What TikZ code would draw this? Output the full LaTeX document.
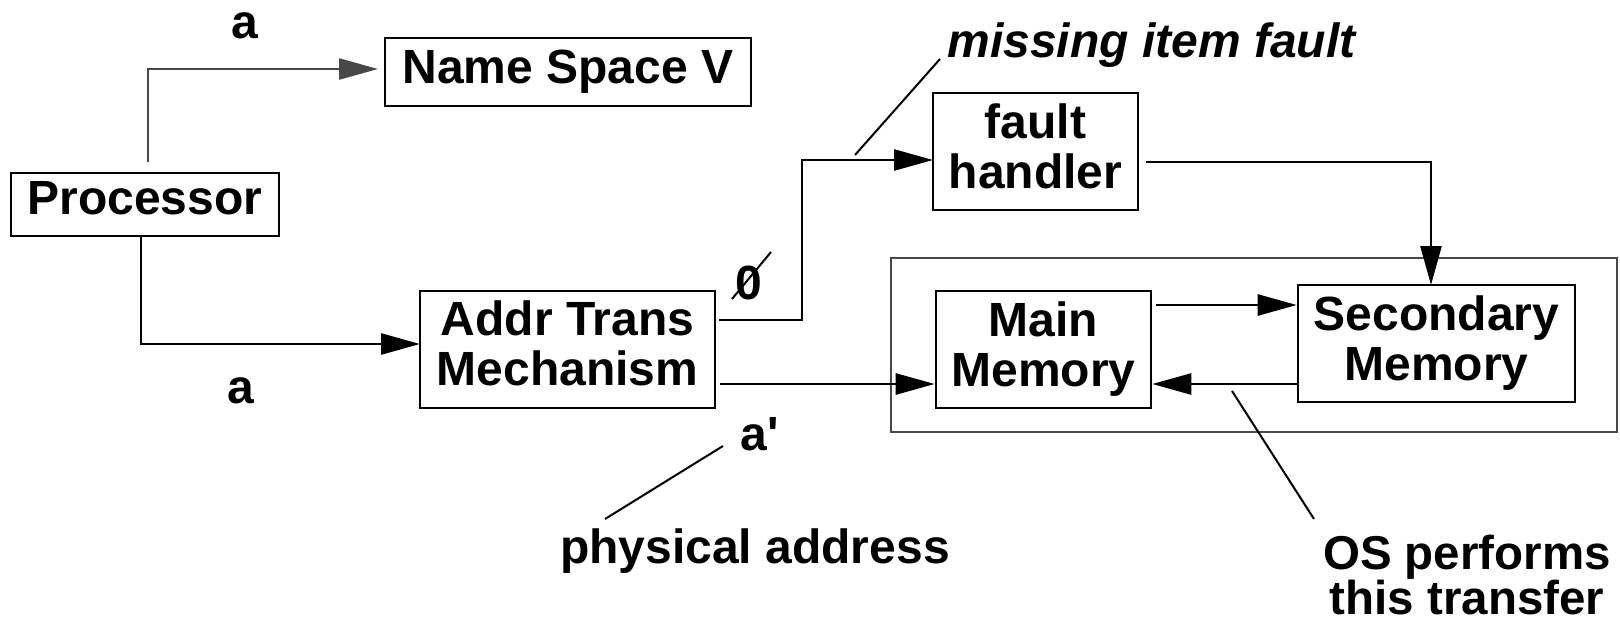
\documentclass[tikz,border=0pt]{standalone}
\usepackage{fontspec}
\setmainfont{Liberation Sans}
\usetikzlibrary{arrows.meta}
\definecolor{dgray}{HTML}{484848}
\tikzset{
  box/.style={draw, line width=2.6pt, inner sep=0pt, align=center,
    font=\fontsize{48}{50}\selectfont\bfseries},
  lbl/.style={inner sep=0pt, anchor=base, font=\fontsize{48}{50}\selectfont\bfseries},
  conn/.style={line width=2.6pt, -{Triangle[length=39pt,width=21pt]}},
  leader/.style={line width=2pt},
}
\begin{document}
\begin{tikzpicture}[x=1pt,y=-1pt]
\useasboundingbox (0,0) rectangle (1620,621);
% boxes
\node[box, minimum width=366pt, minimum height=68pt] (ns) at (568,72) {Name Space V};
\node[box, minimum width=268pt, minimum height=63pt, text depth=14pt] (proc) at (145,204.5) {Processor};
\node[box, minimum width=295pt, minimum height=117pt, text depth=12pt] (addr) at (567.5,349.5) {Addr Trans\\Mechanism};
\node[box, minimum width=205pt, minimum height=117pt, text depth=10pt] (fh) at (1035.5,151.5) {fault\\handler};
\node[draw=dgray, line width=2.6pt, minimum width=726pt, minimum height=174pt, inner sep=0pt] (cont) at (1254,345) {};
\node[box, minimum width=215pt, minimum height=117pt] (mm) at (1043.5,349.5) {Main\\Memory};
\node[box, minimum width=277pt, minimum height=117pt] (sm) at (1436.5,343.5) {Secondary\\Memory};
% free ends
\coordinate (p1) at (148,162);
\coordinate (p2) at (148,69);
\coordinate (nsin) at (378,69);
\coordinate (q1) at (141,344);
\coordinate (addrin) at (420,344);
\coordinate (r0) at (719,320);
\coordinate (r1) at (802,320);
\coordinate (r2) at (802,160);
\coordinate (fhin) at (933,160);
\coordinate (s0) at (1146,162);
\coordinate (s1) at (1431,162);
\coordinate (smin) at (1431,285);
% connectors
\draw[conn, color=dgray] (p1) -- (p2) -- (nsin);
\draw[conn] (proc.south -| q1) -- (q1) -- (addrin);
\draw[conn] (r0) -- (r1) -- (r2) -- (fhin);
\draw[conn] (s0) -- (s1) -- (smin);
\draw[conn] (mm.east |- 0,305) ++(4,0) -- (sm.west |- 0,305);
\draw[conn] (sm.west |- 0,384) -- (mm.east |- 0,384);
\draw[conn] (addr.east |- 0,384) ++(4,0) -- (mm.west |- 0,384);
% labels
\node[lbl] (la1) at (245,38) {a};
\node[lbl] (la2) at (241,403) {a};
\node[lbl] (lap) at (760,450) {a\textquotesingle};
\node[lbl, font=\fontsize{48}{50}\selectfont\bfseries\itshape] (lmf) at (1151.5,57) {missing item fault};
\node[lbl] (lpa) at (755,563) {physical address};
\node[inner sep=0pt, anchor=north, align=center, font=\fontsize{47.5}{41}\selectfont\bfseries] (los) at (1467,535) {OS performs\\this transfer};
\node[lbl] (lzero) at (749,299) {0};
% leader lines
\draw[leader] (732,299) -- (771,252);
\coordinate (m1) at (855,155);
\coordinate (m2) at (940,59);
\draw[leader] (m1) -- (m2);
\coordinate (a1) at (723,446);
\coordinate (a2) at (605,519);
\draw[leader] (a1) -- (a2);
\coordinate (o1) at (1232,391);
\coordinate (o2) at (1314,519);
\draw[leader] (o1) -- (o2);
\end{tikzpicture}
\end{document}
